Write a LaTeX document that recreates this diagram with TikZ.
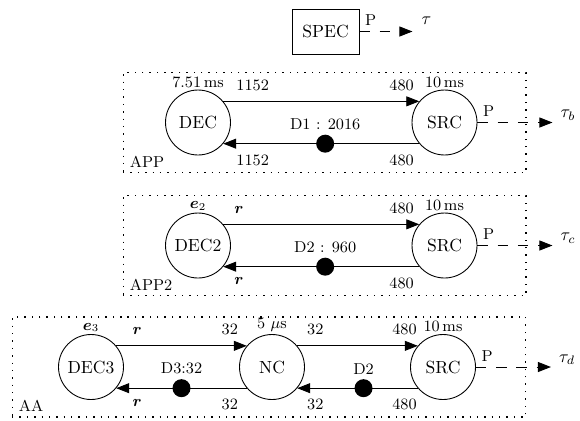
\documentclass[tikz,border=0pt]{standalone}
\usepackage{amsmath,amssymb,bm}
\usetikzlibrary{arrows.meta,positioning,calc}
\tikzset{
  actor/.style={circle, draw, line width=0.5pt, minimum size=1.3cm, inner sep=0pt},
  specbox/.style={rectangle, draw, line width=0.5pt, minimum width=1.34cm, minimum height=0.9cm},
  tok/.style={circle, fill, inner sep=0pt, minimum size=0.36cm},
  lbl/.style={font=\small, inner sep=3pt},
  timelbl/.style={font=\small, inner sep=1pt},
  chan/.style={-{Triangle[length=2.6mm,width=2mm]}, line width=0.5pt},
  outp/.style={chan, dash pattern=on 6pt off 5.5pt},
  grp/.style={draw, line width=0.6pt, dash pattern=on 0.8pt off 3.4pt, minimum width=#1, minimum height=2cm},
}

\begin{document}
\begin{tikzpicture}[x=0.02cm, y=-0.02cm]
    \useasboundingbox (0,0) rectangle (580,420);

    % specification
    \node[specbox] (spec) at (325.5,31.5) {SPEC};
    \coordinate (ospec) at ($(spec.east)+(53,0)$);
    \draw[outp] (spec.east) -- node[lbl, above right, pos=0] {P} (ospec);
    \node[inner sep=0pt, above right=4pt and 5pt of ospec] (tau) {$\tau$};

    % groups
    \node[grp=8.06cm] (app)  at (324.5,122.5) {};
    \node[grp=8.06cm] (app2) at (324.5,245.5) {};
    \node[grp=10.28cm] (aa)  at (269,367) {};
    \foreach \g/\t in {app/APP, app2/APP2, aa/AA}
      \node[lbl, anchor=south west, xshift=1pt] (\g lbl) at (\g.south west) {\t};

    % actors
    \node[actor, label={[timelbl]above:7.51\,ms}] (dec) at (198,122.5) {DEC};
    \node[actor, label={[timelbl]above:10\,ms}] (src1) at (444.5,122.5) {SRC};
    \node[actor, label={[timelbl]above:$\boldsymbol{e}_2$}] (dec2) at (198,245.5) {DEC2};
    \node[actor, label={[timelbl]above:10\,ms}] (src2) at (444.5,245.5) {SRC};
    \node[actor, label={[timelbl]above:$\boldsymbol{e}_3$}] (dec3) at (91,367) {DEC3};
    \node[actor, label={[timelbl]above:5 $\mu$s}] (nc) at (272,367) {NC};
    \node[actor, label={[timelbl]above:10\,ms}] (src3) at (443,367) {SRC};

    % APP
    \draw[chan] (dec.40) -- node[lbl, above=3pt, pos=0.15] {1152} node[lbl, above=3pt, pos=0.91] {480} (src1.140);
    \draw[chan] (src1.-140) -- node[tok, pos=0.48] (d1) {} node[lbl, below=3pt, pos=0.09] {480} node[lbl, below=3pt, pos=0.85] {1152} (dec.-40);
    \node[lbl, above=-0.5pt of d1] (d1lbl) {D1 : 2016};

    % APP2
    \draw[chan] (dec2.40) -- node[lbl, above=3pt, pos=0.08] {$\boldsymbol{r}$} node[lbl, above=3pt, pos=0.91] {480} (src2.140);
    \draw[chan] (src2.-140) -- node[tok, pos=0.48] (d2) {} node[lbl, below=3pt, pos=0.09] {480} node[lbl, below=3pt, pos=0.92] {$\boldsymbol{r}$} (dec2.-40);
    \node[lbl, above=-0.5pt of d2] (d2lbl) {D2 : 960};

    % AA
    \draw[chan] (dec3.40) -- node[lbl, above=3pt, pos=0.16] {$\boldsymbol{r}$} node[lbl, above=3pt, pos=0.87] {32} (nc.140);
    \draw[chan] (nc.40) -- node[lbl, above=3pt, pos=0.15] {32} node[lbl, above=3pt, pos=0.89] {480} (src3.140);
    \draw[chan] (src3.-140) -- node[tok, pos=0.45] (d3b) {} node[lbl, below=3pt, pos=0.11] {480} node[lbl, below=3pt, pos=0.85] {32} (nc.-40);
    \draw[chan] (nc.-140) -- node[tok, pos=0.5] (d3a) {} node[lbl, below=3pt, pos=0.13] {32} node[lbl, below=3pt, pos=0.84] {$\boldsymbol{r}$} (dec3.-40);
    \node[lbl, above=-0.5pt of d3a] (d3albl) {D3:32};
    \node[lbl, above=-0.5pt of d3b] (d3blbl) {D2};

    % outputs
    \foreach \s/\t in {src1/b, src2/c, src3/d} {
      \coordinate (o\t) at ($(\s.east)+(75,0)$);
      \draw[outp] (\s.east) -- node[lbl, above right, pos=0] {P} (o\t);
      \node[inner sep=0pt, above right=1pt and 4.5pt of o\t] (tau\t) {$\tau_\t$};
    }
  \end{tikzpicture}
\end{document}
